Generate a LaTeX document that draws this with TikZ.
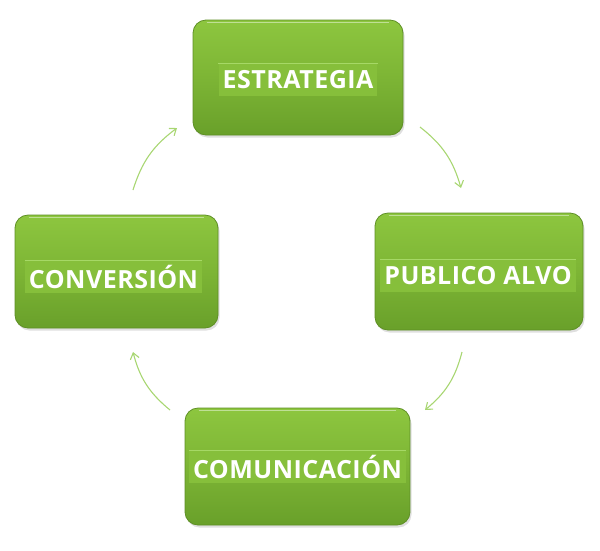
\documentclass[tikz,border=0pt]{standalone}
\usepackage{fontspec}
\setmainfont{Open Sans}
\newfontfamily\boxfont[LetterSpace=2]{Open Sans}
\usetikzlibrary{arrows.meta,shadows}
\definecolor{gtop}{HTML}{8DC63F}
\definecolor{gmid}{HTML}{7DB535}
\definecolor{gbot}{HTML}{69A02A}
\definecolor{gedge}{HTML}{5E8F25}
\definecolor{arrowc}{HTML}{A8D672}
\definecolor{bandc}{HTML}{86BF3B}
\definecolor{bandline}{HTML}{A6D866}
\begin{document}
\begin{tikzpicture}[x=1pt,y=-1pt,
  cyclebox/.style={rounded corners=13pt, draw=gedge, line width=0.8pt,
    top color=gtop, bottom color=gbot, middle color=gmid,
    drop shadow={opacity=0.25, shadow xshift=1.5pt, shadow yshift=-2.5pt}},
  boxlabel/.style={fill=bandc, text=white, inner xsep=4pt, inner ysep=4pt,
    minimum height=32pt, font=\boxfont\bfseries\fontsize{25}{30}\selectfont},
  conn/.style={draw=arrowc, line width=1.1pt, bend left=18,
    -{Straight Barb[length=6pt,width=9pt,line width=1.1pt]}}]
\useasboundingbox (0,0) rectangle (600,550);
% boxes
\node[cyclebox, minimum width=210pt, minimum height=115pt] (e) at (298,77.5) {};
\node[cyclebox, minimum width=208pt, minimum height=117pt] (p) at (479,271.5) {};
\node[cyclebox, minimum width=225pt, minimum height=117pt] (m) at (297.5,466.5) {};
\node[cyclebox, minimum width=203pt, minimum height=113pt] (c) at (116.5,271.5) {};
% glossy top lines
\foreach \b in {e,p,m,c}{
  \draw[white, opacity=0.45, line width=1.2pt]
    ([xshift=14pt,yshift=-3pt]\b.north west) -- ([xshift=-14pt,yshift=-3pt]\b.north east);
}
% labels
\node[boxlabel] (et) at (298,80) {ESTRATEGIA};
\node[boxlabel] (pt) at (478,276) {PUBLICO ALVO};
\node[boxlabel] (mt) at (297.5,467) {COMUNICACIÓN};
\node[boxlabel] (ct) at (113.5,277) {CONVERSIÓN};
\foreach \b in {et,pt,mt,ct}{
  \draw[bandline, line width=1pt] (\b.north west) -- (\b.north east);
}
% arrows
\coordinate (a1s) at (133,190); \coordinate (a1e) at (177,128);
\coordinate (a2s) at (420,127); \coordinate (a2e) at (461,188);
\coordinate (a3s) at (462,352); \coordinate (a3e) at (425,410);
\coordinate (a4s) at (170,410); \coordinate (a4e) at (133,352);
\draw[conn] (a1s) to (a1e);
\draw[conn] (a2s) to (a2e);
\draw[conn] (a3s) to (a3e);
\draw[conn] (a4s) to (a4e);
\end{tikzpicture}
\end{document}
